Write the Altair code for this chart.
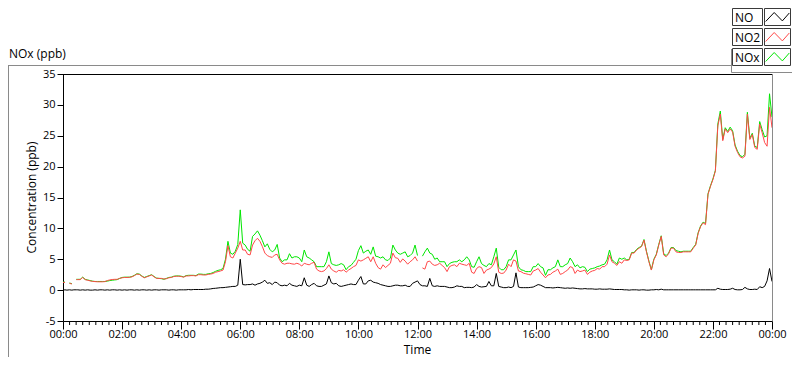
import altair as alt
import pandas as pd

# ---- data ----
minutes = [0, 4, 8, 13, 18, 22, 27] + list(range(30, 1441, 5))

no2_ppb = (
    [1.25, 1.25, None, 1.1, 1.0, None, 1.7]
    + [1.7, 1.7, 2.05, 1.7, 1.6, 1.5]
    + [1.42, 1.38, 1.35, 1.35, 1.35, 1.38, 1.55, 1.65, 1.72, 1.75, 1.75, 1.9]
    + [2.0, 2.05, 2.05, 2.08, 2.15, 2.35, 2.6, 2.55, 2.25, 2.0, 2.15, 2.3]
    + [2.45, 2.15, 1.9, 1.9, 1.9, 1.8, 1.85, 2.0, 2.05, 2.2, 2.25, 2.25]
    + [2.2, 2.1, 2.3, 2.3, 2.35, 2.35, 2.3, 2.5, 2.5, 2.45, 2.45, 2.55]
    + [2.6, 2.7, 2.9, 3.0, 3.1, 3.25, 4.6, 7.2, 5.4, 5.2, 6.0, 6.8]
    + [7.9, 6.5, 6.5, 5.8, 5.7, 7.3, 8.0, 8.4, 7.9, 7.05, 6.0, 5.6]
    + [5.4, 5.3, 5.7, 5.8, 4.9, 4.35, 4.2, 4.35, 4.35, 4.25, 4.2, 4.35]
    + [4.2, 3.9, 4.35, 4.2, 4.1, 4.35, 4.5, 3.4, 3.1, 3.0, 3.1, 3.5]
    + [4.1, 3.4, 3.1, 2.9, 3.2, 3.1, 3.3, 2.9, 3.25, 3.5, 3.8, 4.0]
    + [4.9, 4.7, 4.9, 5.15, 5.4, 4.6, 5.4, 4.35, 3.65, 3.4, 4.1, 3.65]
    + [4.0, 4.35, 6.0, 5.25, 5.15, 4.5, 5.05, 4.7, 4.2, 4.6, 4.9, 5.4]
    + [4.7, None, 3.6, 3.4, 4.6, 4.7, 4.2, 4.0, 4.1, 4.35, 4.0, 3.65]
    + [3.0, 3.8, 4.0, 4.1, 3.8, 4.35, 4.2, 4.1, 4.0, 4.35, 2.9, 2.7]
    + [3.5, 3.8, 3.65, 2.7, 3.25, 3.4, 3.65, 4.25, 5.4, 2.9, 2.7, 2.75]
    + [3.25, 4.2, 3.8, 4.9, 4.7, 3.1, 3.0, 2.75, 2.65, 2.55, 2.45, 3.1]
    + [3.25, 3.5, 2.9, 2.45, 2.0, 2.45, 2.55, 2.9, 3.1, 3.4, 2.55, 2.7]
    + [3.0, 3.25, 3.8, 3.65, 2.7, 3.25, 3.0, 3.1, 3.25, 2.55, 2.9, 3.1]
    + [3.2, 3.5, 3.4, 3.8, 3.8, 4.2, 5.7, 4.6, 4.35, 4.0, 4.6, 4.35]
    + [4.9, 4.8, 4.9, 6.0, 6.0, 6.5, 6.8, 7.05, 8.1, 6.2, 4.6, 3.25]
    + [4.9, 5.7, 7.3, 8.7, 5.7, 5.4, 5.9, 6.8, 6.8, 6.2, 6.1, 6.1]
    + [6.2, 6.2, 6.2, 6.2, 6.8, 7.3, 9.2, 10.3, 10.9, 10.6, 15.5, 16.8]
    + [17.9, 19.3, 26.6, 28.5, 24.2, 26.1, 25.5, 26.1, 25.6, 23.3, 22.3, 21.6]
    + [21.4, 21.7, 28.5, 24.4, 25.2, 23.1, 22.8, 26.9, 25.5, 23.9, 23.3, 29.6]
    + [26.3]
)

nox_ppb = (
    [1.3, 1.3, None, 1.15, 1.05, None, 1.75]
    + [1.75, 1.75, 2.1, 1.75, 1.65, 1.55]
    + [1.45, 1.4, 1.4, 1.4, 1.4, 1.4, 1.45, 1.55, 1.6, 1.65, 1.7, 1.9]
    + [2.05, 2.1, 2.1, 2.1, 2.2, 2.4, 2.65, 2.6, 2.3, 2.05, 2.2, 2.35]
    + [2.5, 2.2, 1.95, 1.9, 1.85, 1.75, 1.9, 2.05, 2.1, 2.25, 2.3, 2.3]
    + [2.25, 2.15, 2.35, 2.4, 2.4, 2.4, 2.35, 2.6, 2.6, 2.55, 2.55, 2.65]
    + [2.7, 2.85, 3.05, 3.2, 3.3, 3.5, 5.0, 7.9, 6.0, 5.8, 6.3, 7.4]
    + [13.0, 7.6, 7.3, 6.6, 6.3, 8.7, 9.1, 9.6, 8.9, 8.0, 7.0, 7.5]
    + [6.6, 6.2, 6.5, 7.4, 5.2, 4.6, 4.9, 4.9, 5.9, 5.2, 5.4, 5.4]
    + [5.2, 4.6, 6.5, 5.4, 5.2, 4.9, 4.6, 3.8, 3.8, 3.8, 3.8, 4.6]
    + [6.2, 4.3, 4.1, 4.0, 4.1, 4.3, 4.1, 3.3, 3.8, 4.0, 4.5, 5.0]
    + [6.4, 7.2, 6.0, 6.3, 6.5, 5.8, 7.0, 5.5, 5.4, 5.2, 5.4, 4.9]
    + [4.8, 5.2, 7.3, 6.5, 6.0, 5.8, 6.0, 6.2, 5.4, 5.6, 6.0, 7.3]
    + [5.6, None, 5.5, 6.2, 6.8, 6.0, 5.8, 5.0, 5.2, 4.6, 4.6, 4.6]
    + [3.8, 4.3, 4.5, 4.6, 4.6, 4.9, 4.6, 4.9, 5.4, 4.9, 3.8, 3.7]
    + [4.6, 5.4, 4.3, 4.0, 3.8, 4.3, 4.1, 5.4, 6.8, 3.7, 3.3, 3.3]
    + [3.8, 4.9, 4.9, 5.7, 6.5, 3.8, 3.3, 3.2, 3.0, 3.0, 3.0, 3.8]
    + [3.8, 4.3, 3.8, 3.6, 2.4, 3.3, 3.3, 3.6, 3.8, 4.9, 3.8, 3.8]
    + [4.1, 4.3, 5.2, 4.6, 3.8, 4.1, 3.6, 3.8, 3.7, 3.0, 3.4, 3.5]
    + [3.6, 3.8, 3.9, 4.1, 4.2, 4.9, 6.5, 4.9, 4.6, 4.2, 5.2, 5.0]
    + [5.2, 4.9, 5.0, 6.1, 6.1, 6.6, 6.9, 7.1, 8.2, 6.3, 4.7, 3.3]
    + [5.0, 5.8, 7.4, 8.8, 5.9, 5.6, 6.0, 6.9, 6.9, 6.4, 6.3, 6.2]
    + [6.3, 6.3, 6.3, 6.3, 6.9, 7.4, 9.3, 10.4, 11.0, 10.8, 15.6, 16.9]
    + [18.0, 19.4, 26.9, 29.0, 24.4, 26.3, 25.7, 26.4, 25.8, 23.5, 22.5, 21.8]
    + [21.6, 22.0, 28.8, 24.6, 25.4, 23.3, 23.1, 27.3, 26.0, 24.8, 25.0, 31.8]
    + [28.0]
)

no_ppb = (
    [0.0, 0.05, 0.0, 0.05, 0.0, 0.05, 0.05]
    + [0.05, 0.0, 0.05, 0.0, 0.05, 0.0]
    + [0.0, 0.05, 0.0, 0.05, 0.05, 0.0, 0.05, 0.0, 0.05, 0.05, 0.0, 0.05]
    + [0.0, 0.05, 0.0, 0.05, 0.05, 0.0, 0.05, 0.0, 0.05, 0.05, 0.0, 0.05]
    + [0.0, 0.05, 0.05, 0.0, 0.05, 0.05, 0.05, 0.0, 0.05, 0.05, 0.0, 0.05]
    + [0.05, 0.05, 0.05, 0.1, 0.05, 0.1, 0.1, 0.1, 0.1, 0.1, 0.15, 0.15]
    + [0.2, 0.27, 0.3, 0.35, 0.4, 0.4, 0.45, 0.5, 0.55, 0.6, 0.6, 0.8]
    + [5.0, 0.9, 0.85, 0.9, 0.9, 1.0, 0.8, 1.0, 1.1, 1.3, 1.6, 1.1]
    + [1.2, 0.9, 1.3, 1.2, 0.8, 0.7, 0.8, 0.7, 1.1, 0.8, 0.7, 0.6]
    + [0.8, 0.7, 2.0, 0.8, 0.6, 0.9, 1.1, 0.7, 0.6, 0.6, 0.8, 1.0]
    + [2.3, 1.2, 1.0, 1.1, 0.7, 0.6, 0.7, 0.8, 0.9, 1.0, 0.9, 0.9]
    + [1.6, 2.2, 1.0, 1.0, 1.5, 1.6, 1.3, 1.2, 1.1, 0.9, 0.8, 0.7]
    + [0.6, 0.6, 0.7, 0.8, 0.8, 0.7, 0.7, 0.8, 0.6, 0.6, 1.1, 1.3]
    + [1.5, 0.9, 0.7, 0.7, 0.6, 1.9, 0.7, 0.6, 0.7, 0.6, 0.6, 0.6]
    + [0.5, 0.4, 0.4, 0.5, 0.7, 0.6, 0.6, 0.4, 0.45, 0.45, 0.4, 0.5]
    + [0.9, 0.6, 0.5, 0.55, 0.6, 1.4, 0.7, 0.7, 2.7, 0.6, 0.5, 0.4]
    + [0.4, 0.5, 0.4, 0.6, 2.8, 0.5, 0.4, 0.4, 0.4, 0.4, 0.45, 0.5]
    + [0.7, 0.9, 0.8, 0.6, 0.4, 0.4, 0.4, 0.35, 0.4, 0.45, 0.4, 0.35]
    + [0.3, 0.35, 0.3, 0.35, 0.3, 0.25, 0.2, 0.2, 0.25, 0.2, 0.2, 0.2]
    + [0.15, 0.15, 0.2, 0.15, 0.15, 0.15, 0.2, 0.15, 0.1, 0.1, 0.1, 0.1]
    + [0.05, 0.05, 0.0, 0.05, 0.05, 0.05, 0.0, 0.05, 0.05, 0.0, 0.0, 0.05]
    + [0.05, 0.1, 0.05, 0.15, 0.05, 0.05, 0.05, 0.05, 0.05, 0.05, 0.05, 0.05]
    + [0.05, 0.05, 0.05, 0.05, 0.05, 0.05, 0.05, 0.05, 0.05, 0.05, 0.05, 0.05]
    + [0.05, 0.05, 0.3, 0.15, 0.1, 0.1, 0.1, 0.15, 0.3, 0.1, 0.05, 0.05]
    + [0.1, 0.45, 0.2, 0.1, 0.1, 0.15, 0.1, 0.55, 0.4, 0.6, 1.5, 3.5]
    + [1.4]
)

series_names = ["NO", "NO2", "NOx"]
series_colors = ["#000000", "#ff4848", "#00e600"]
hour_ticks = list(range(0, 1441, 120))
minor_ticks = [i * 120 / 9 for i in range(109) if i % 9]
y_ticks = list(range(-5, 36, 5))

assert len(minutes) == len(no_ppb) == len(no2_ppb) == len(nox_ppb)

W, H = 709, 247
FONT = "Open Sans"


def frame(vals):
    rows, seg = [], 0
    for m, v in zip(minutes, vals):
        if v is None:
            seg += 1
        else:
            rows.append({"minute": m, "ppb": v, "seg": seg})
    return pd.DataFrame(rows)


xscale = alt.Scale(domain=[0, 1440], nice=False, zero=False)
yscale = alt.Scale(domain=[-5, 35], nice=False, zero=False)

xaxis = alt.Axis(
    values=hour_ticks,
    labelExpr="(floor(datum.value/60)%24 < 10 ? '0' : '') + (floor(datum.value/60)%24) + ':00'",
    tickSize=8, labelPadding=-1, labelFlush=False, labelOverlap=False,
    domainColor="black", tickColor="black", labelColor="black",
    labelFont=FONT, labelFontSize=11, title=None, grid=False,
)
yaxis = alt.Axis(
    values=y_ticks, labelExpr="'' + datum.value",
    tickSize=6, labelPadding=2, labelFlush=False, labelOverlap=False,
    domainColor="black", tickColor="black", labelColor="black",
    labelFont=FONT, labelFontSize=11, title=None, grid=False,
)
X = alt.X("minute:Q", scale=xscale, axis=xaxis)
Y = alt.Y("ppb:Q", scale=yscale, axis=yaxis)


def line(vals, color):
    return alt.Chart(frame(vals)).mark_line(color=color, strokeWidth=1, clip=True).encode(
        x=X, y=Y, detail="seg:N"
    )


dummy = pd.DataFrame({"k": [0]})


def rule(x1, x2, y1, y2, color):
    return alt.Chart(dummy).mark_rule(color=color, strokeWidth=1).encode(
        x=alt.value(x1), x2=alt.value(x2), y=alt.value(y1), y2=alt.value(y2)
    )


def box(x1, x2, y1, y2, stroke):
    return alt.Chart(dummy).mark_rect(fill="white", stroke=stroke, strokeWidth=1).encode(
        x=alt.value(x1), x2=alt.value(x2), y=alt.value(y1), y2=alt.value(y2)
    )


def label(s, x, y, **kw):
    return alt.Chart(dummy).mark_text(font=FONT, fontSize=12, color="black", **kw).encode(
        x=alt.value(x), y=alt.value(y), text=alt.value(s)
    )


minor_df = pd.DataFrame({"minute": minor_ticks})
minor = alt.Chart(minor_df).mark_rule(color="black", strokeWidth=1).encode(
    x=alt.X("minute:Q", scale=xscale, axis=xaxis), y=alt.value(H), y2=alt.value(H + 4)
)

layers = [
    line(nox_ppb, series_colors[2]),
    line(no2_ppb, series_colors[1]),
    line(no_ppb, series_colors[0]),
    minor,
    rule(0, W, 0.5, 0.5, "black"),
    rule(W + 0.5, W + 0.5, 0, H, "#8a8a8a"),
    rule(-55, 668.5, -8.5, -8.5, "#8a8a8a"),
    rule(-54.5, -54.5, -8.5, 283, "#8a8a8a"),
    rule(668.5, 668.5, -25, -1.5, "#8a8a8a"),
    rule(668.5, 729, -1.5, -1.5, "#8a8a8a"),
    label("NOx (ppb)", -54, -16, align="left", baseline="alphabetic"),
    label("Concentration (ppb)", -27, H / 2, align="center", baseline="alphabetic", angle=270),
    label("Time", W / 2, 279.5, align="center", baseline="alphabetic"),
]

zig = "M-1,0.38L-0.28,-0.38L0.41,0.33L1,-0.34"
row_tops = [-65.5, -45.5, -25.5]
for name, color, top in zip(series_names, series_colors, row_tops):
    layers.append(box(669.5, 699.5, top, top + 17, "#3a3a3a"))
    layers.append(box(701.5, 727.5, top, top + 17, "#3a3a3a"))
    layers.append(label(name, 672, top + 9, align="left", baseline="middle"))
    layers.append(
        alt.Chart(dummy).mark_point(shape=zig, size=560, filled=False, color=color,
                                    strokeWidth=1, opacity=1).encode(
            x=alt.value(714.5), y=alt.value(top + 8.5)
        )
    )

chart = alt.layer(*layers).properties(
    width=W, height=H,
    padding={"left": 55, "top": 66, "right": 20, "bottom": 36},
    autosize=alt.AutoSizeParams(type="none"),
    background="white",
).configure_view(stroke=None)

chart.save("out.html", embed_options={"renderer": "svg", "actions": False})
